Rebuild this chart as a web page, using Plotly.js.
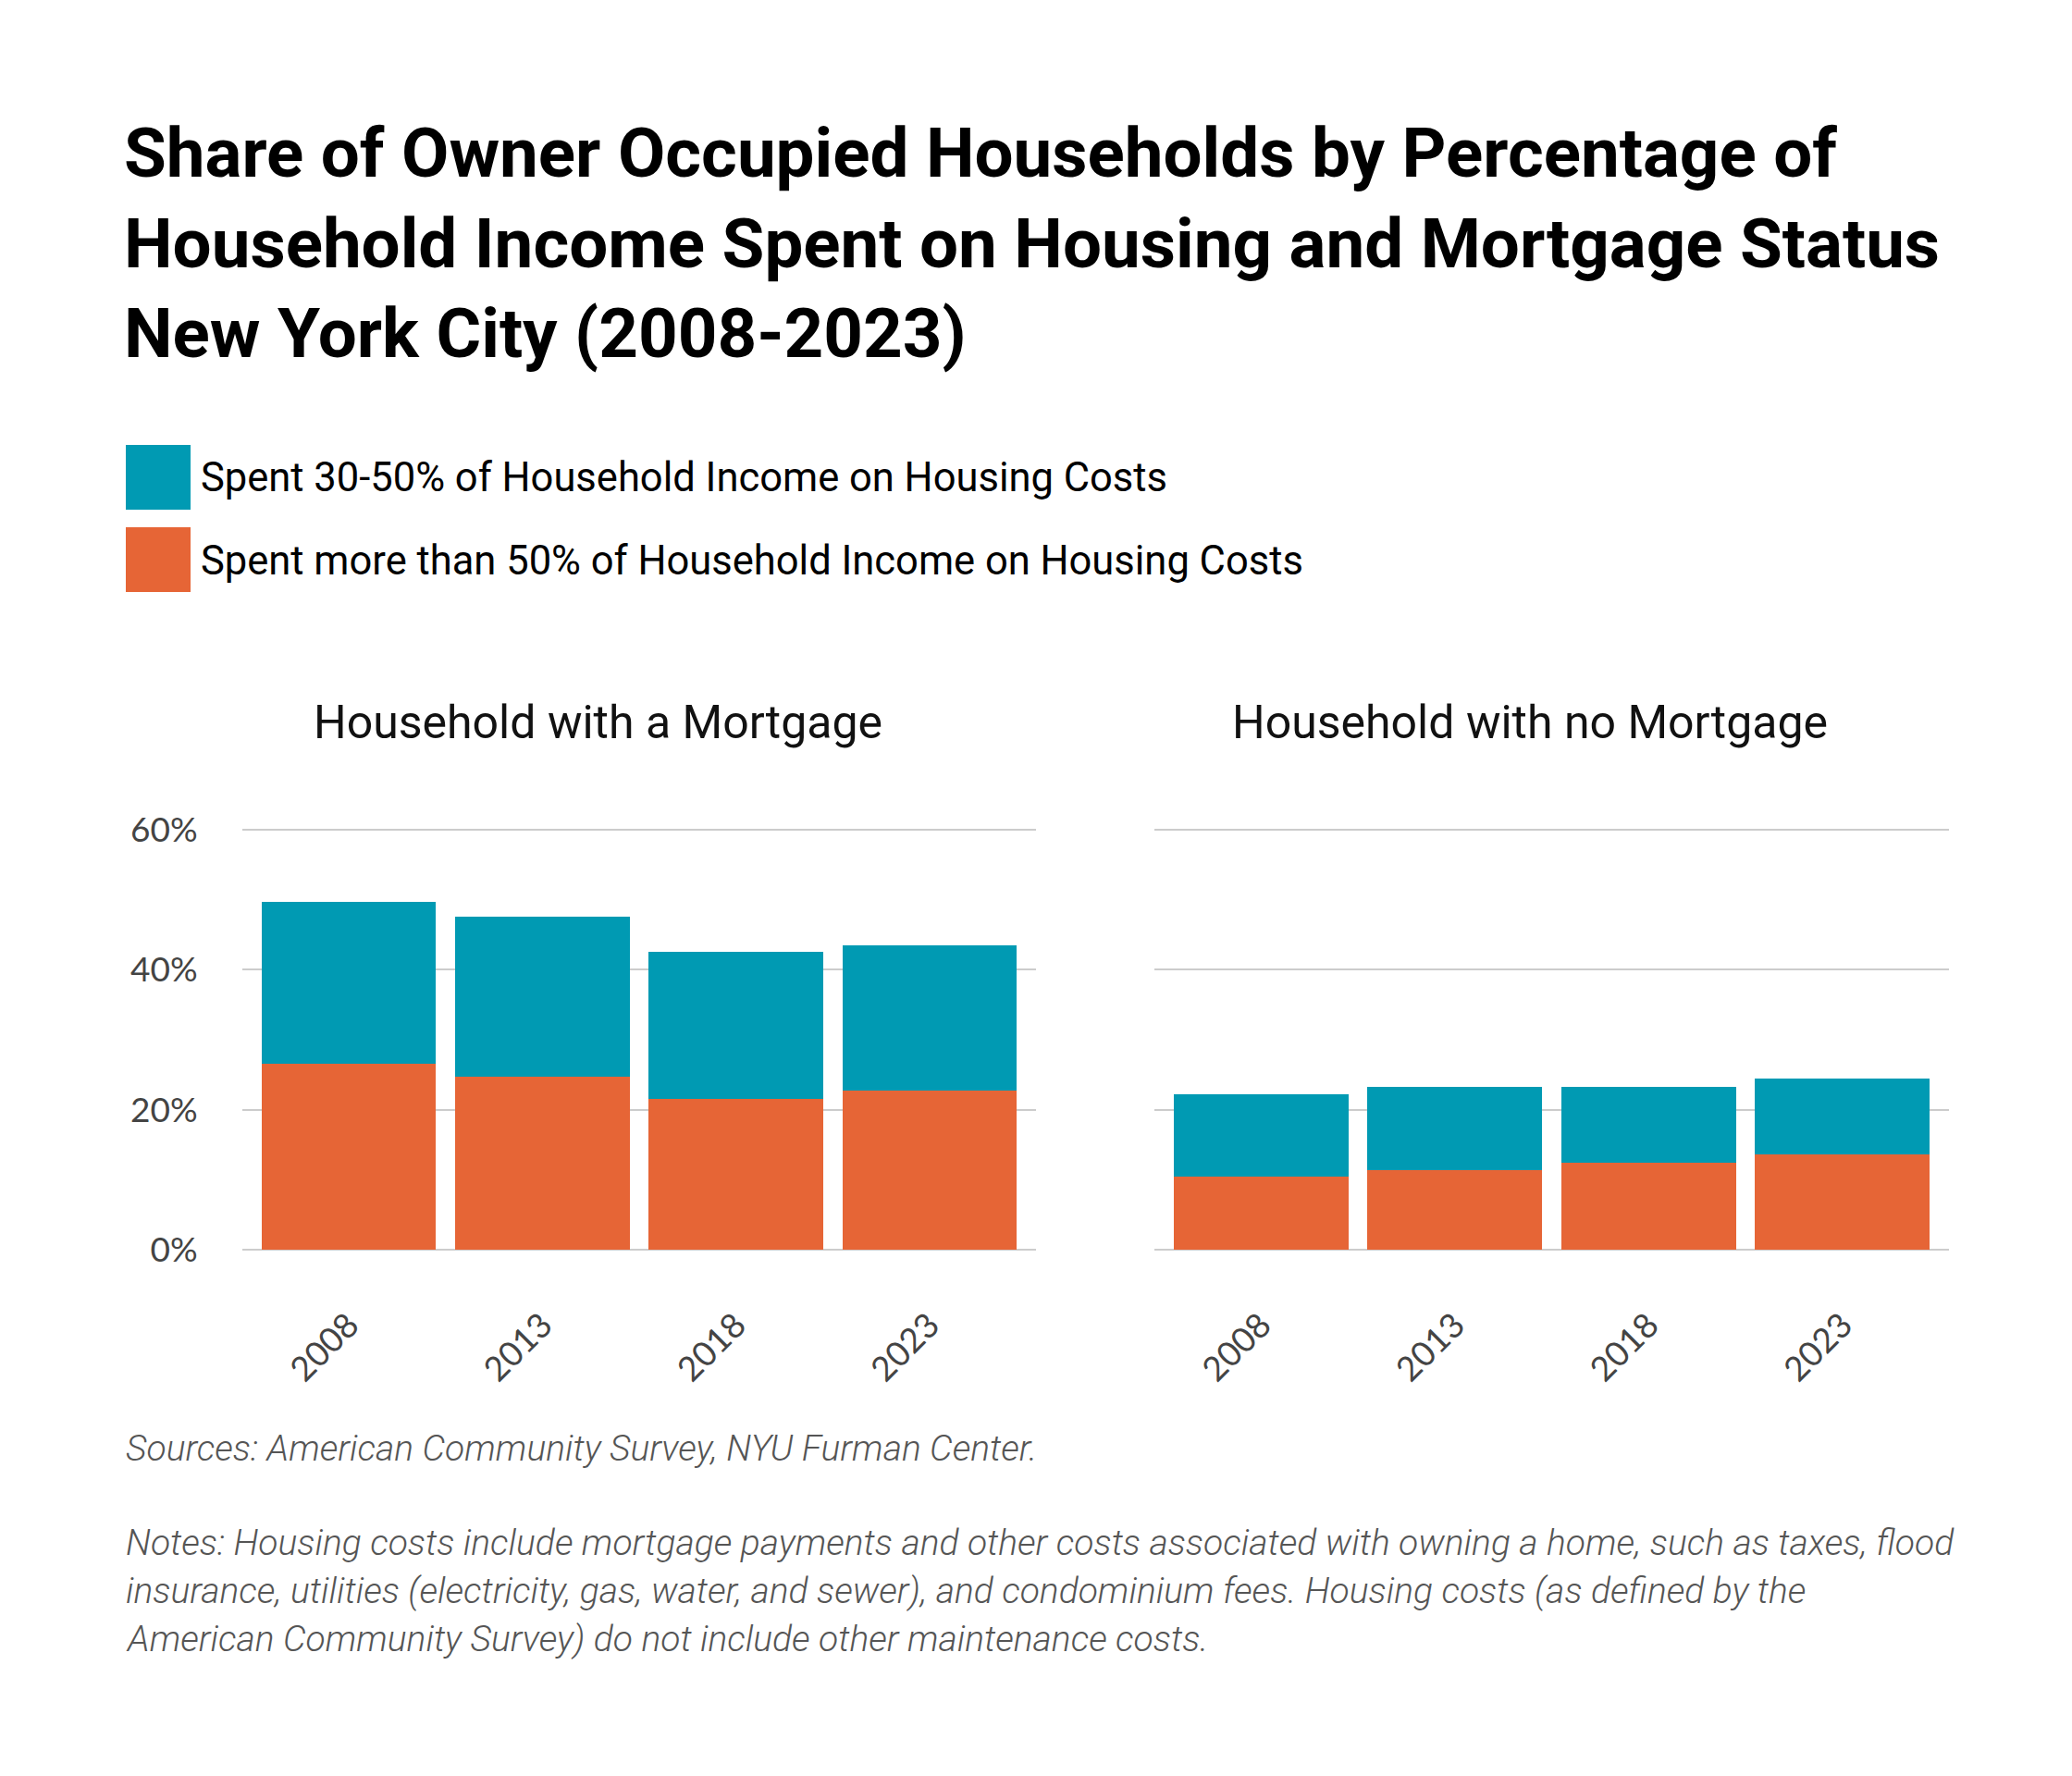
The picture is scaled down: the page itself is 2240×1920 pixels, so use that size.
<!DOCTYPE html>
<html>
<head>
<meta charset="utf-8">
<script src="https://cdn.plot.ly/plotly-3.0.1.min.js"></script>
<style>
  body { margin: 0; background: #fff; }
  #myDiv { width: 2240px; height: 1920px; }
</style>
</head>
<body>
<div id="myDiv"></div>
<script>
var years = ['2008', '2013', '2018', '2023'];

// share of households, percent
var mortgageOver50 = [26.6, 24.7, 21.6, 22.8];
var mortgage30to50 = [23.1, 22.9, 21.0, 20.7];
var noMortgageOver50 = [10.5, 11.4, 12.4, 13.6];
var noMortgage30to50 = [11.7, 11.8, 10.8, 10.9];

var yTicks = [0, 20, 40, 60];
var yTickText = ['0%', '20%', '40%', '60%'];

var BLUE = '#009AB3',
    ORANGE = '#E66536',
    W = 2240,
    H = 1920;

// pixel -> paper helpers
function px(x) { return x / W; }
function py(y) { return 1 - y / H; }

var trace1 = {
  x: years, y: mortgageOver50, type: 'bar',
  marker: {color: ORANGE}, xaxis: 'x', yaxis: 'y',
  name: 'Spent more than 50% of Household Income on Housing Costs'
};
var trace2 = {
  x: years, y: mortgage30to50, type: 'bar',
  marker: {color: BLUE}, xaxis: 'x', yaxis: 'y',
  name: 'Spent 30-50% of Household Income on Housing Costs'
};
var trace3 = {
  x: years, y: noMortgageOver50, type: 'bar',
  marker: {color: ORANGE}, xaxis: 'x2', yaxis: 'y2',
  name: 'Spent more than 50% of Household Income on Housing Costs'
};
var trace4 = {
  x: years, y: noMortgage30to50, type: 'bar',
  marker: {color: BLUE}, xaxis: 'x2', yaxis: 'y2',
  name: 'Spent 30-50% of Household Income on Housing Costs'
};

var data = [trace1, trace2, trace3, trace4];

var tickFont = {family: 'Lato', size: 37, color: '#444'};

function xAxis(d0, d1, anchor) {
  return {
    domain: [px(d0), px(d1)], anchor: anchor, type: 'category',
    range: [-0.55, 3.55], showgrid: false, zeroline: false, showline: false,
    tickangle: -45, tickfont: tickFont, ticks: 'outside', ticklen: 42,
    tickcolor: 'rgba(0,0,0,0)', automargin: false, fixedrange: true
  };
}
// range padded a little so the 0% and 60% grid lines are drawn
function yAxis(anchor, showLabels) {
  return {
    domain: [py(1353), py(895)], anchor: anchor, range: [-0.25, 60.25],
    tickvals: yTicks, ticktext: yTickText, showticklabels: showLabels,
    tickfont: tickFont, ticks: 'outside', ticklen: 40,
    tickcolor: 'rgba(0,0,0,0)', showgrid: true, gridcolor: '#cccccc',
    gridwidth: 2, zeroline: false, showline: false, automargin: false,
    fixedrange: true
  };
}

var titleFont = {family: 'Roboto', size: 74.5, color: '#000', weight: 700};
var legendFont = {family: 'Roboto', size: 43.5, color: '#000'};
var subFont = {family: 'Roboto', size: 50, color: '#111'};
var noteFont = {family: 'Roboto', size: 39, color: '#555', style: 'italic', weight: 300};

function note(text, x, y, font, xanchor) {
  return {
    text: text, x: px(x), y: py(y), xref: 'paper', yref: 'paper',
    xanchor: xanchor || 'left', yanchor: 'middle', showarrow: false, font: font
  };
}

var annotations = [
  note('Share of Owner Occupied Households by Percentage of', 132, 166, titleFont),
  note('Household Income Spent on Housing and Mortgage Status', 132, 264, titleFont),
  note('New York City (2008-2023)', 132, 360, titleFont),
  note('Spent 30-50% of Household Income on Housing Costs', 215, 516, legendFont),
  note('Spent more than 50% of Household Income on Housing Costs', 215, 606, legendFont),
  note('Household with a Mortgage', 646, 781, subFont, 'center'),
  note('Household with no Mortgage', 1654, 781, subFont, 'center'),
  note('Sources: American Community Survey, NYU Furman Center.', 134, 1566, noteFont),
  note('Notes: Housing costs include mortgage payments and other costs associated with owning a home, such as taxes, flood', 134, 1668, noteFont),
  note('insurance, utilities (electricity, gas, water, and sewer), and condominium fees. Housing costs (as defined by the', 134, 1720, noteFont),
  note('American Community Survey) do not include other maintenance costs.', 134, 1772, noteFont)
];

// legend swatches
var shapes = [
  {type: 'rect', xref: 'paper', yref: 'paper', x0: px(136), x1: px(206), y0: py(551), y1: py(481),
   fillcolor: BLUE, line: {width: 0}},
  {type: 'rect', xref: 'paper', yref: 'paper', x0: px(136), x1: px(206), y0: py(640), y1: py(570),
   fillcolor: ORANGE, line: {width: 0}}
];

var layout = {
  width: W, height: H,
  margin: {l: 0, r: 0, t: 0, b: 0},
  paper_bgcolor: '#fff', plot_bgcolor: 'rgba(0,0,0,0)',
  barmode: 'stack', bargap: 0.1,
  showlegend: false,
  xaxis: xAxis(262, 1120, 'y'),
  yaxis: yAxis('x', true),
  xaxis2: xAxis(1248, 2107, 'y2'),
  yaxis2: yAxis('x2', false),
  annotations: annotations,
  shapes: shapes
};

Plotly.newPlot('myDiv', data, layout, {staticPlot: true});
</script>
</body>
</html>
